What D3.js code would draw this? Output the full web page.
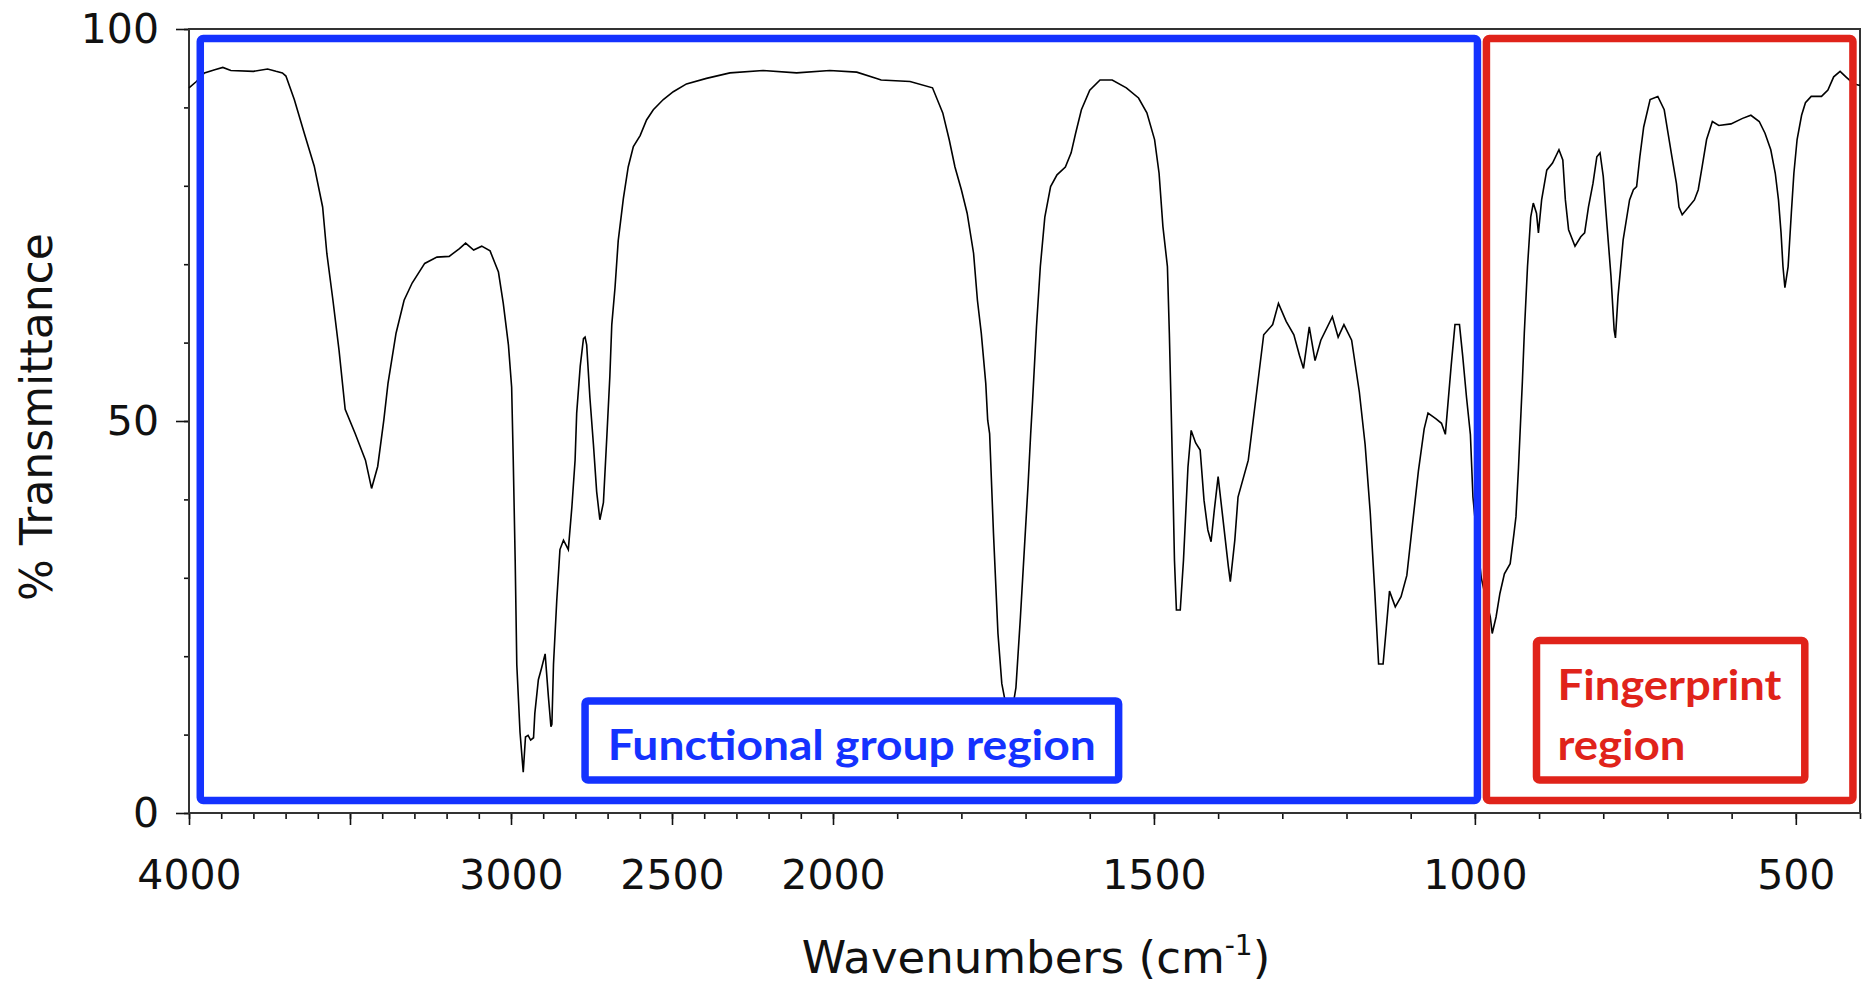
<!DOCTYPE html>
<html>
<head>
<meta charset="utf-8">
<script src="https://cdn.jsdelivr.net/npm/d3@7"></script>
<style>
  body { margin: 0; background: #fff; }
  text { font-family: "DejaVu Sans", sans-serif; fill: #111; }
</style>
</head>
<body>
<div id="chart"></div>
<script>
// wavenumber (cm-1) and % transmittance
const wavenumbers = [
  4000, 3977, 3952, 3920, 3895, 3870, 3800, 3756, 3730, 3710, 3699, 3673, 3642, 3611, 3585, 3572,
  3553, 3534, 3515, 3484, 3452, 3433, 3414, 3395, 3382, 3357, 3332, 3307, 3268, 3230, 3192, 3160,
  3141, 3116, 3091, 3065, 3039, 3024, 3008, 2998, 2993, 2987, 2982, 2972, 2962, 2955, 2947, 2939,
  2930, 2926, 2915, 2905, 2894, 2884, 2876, 2873, 2868, 2858, 2848, 2837, 2822, 2811, 2801, 2796,
  2785, 2775, 2770, 2765, 2755, 2744, 2734, 2724, 2713, 2702, 2693, 2687, 2677, 2667, 2651, 2636,
  2620, 2599, 2579, 2558, 2527, 2496, 2455, 2393, 2320, 2217, 2113, 2010, 1963, 1932, 1925, 1880,
  1845, 1829, 1819, 1810, 1800, 1791, 1781, 1775, 1769, 1762, 1759, 1756, 1750, 1743, 1737, 1730,
  1720, 1715, 1708, 1702, 1696, 1692, 1689, 1683, 1677, 1670, 1661, 1651, 1638, 1629, 1622, 1613,
  1600, 1584, 1565, 1543, 1524, 1511, 1499, 1492, 1486, 1479, 1476, 1473, 1470, 1468, 1465, 1459,
  1454, 1447, 1442, 1435, 1428, 1422, 1416, 1411, 1406, 1400, 1394, 1384, 1381, 1374, 1369, 1353,
  1341, 1329, 1315, 1306, 1294, 1282, 1273, 1267, 1258, 1249, 1240, 1222, 1213, 1204, 1192, 1180,
  1171, 1163, 1156, 1150, 1143, 1138, 1133, 1124, 1115, 1106, 1097, 1088, 1079, 1073, 1061, 1052,
  1046, 1037, 1031, 1024, 1019, 1013, 1007, 1003, 998, 990, 982, 976, 973, 967, 961, 954,
  945, 939, 936, 932, 928, 926, 923, 918, 913, 909, 904, 901, 896, 888, 879, 869,
  863, 859, 854, 844, 835, 829, 823, 816, 810, 805, 800, 794, 788, 783, 781, 777,
  769, 759, 753, 748, 743, 737, 727, 715, 705, 699, 693, 686, 682, 677, 668, 658,
  652, 646, 639, 630, 620, 601, 583, 570, 557, 548, 539, 532, 527, 523, 520, 517,
  512, 507, 503, 498, 491, 485, 476, 460, 450, 441, 431, 422, 410, 400
];
const transmittance = [
  92.5, 93.3, 94.4, 94.8, 95.1, 94.7, 94.6, 94.9, 94.6, 94.4, 94.0, 91.0, 86.7, 82.5, 77.3, 71.4,
  65.4, 59.0, 51.5, 48.4, 45.0, 41.4, 44.2, 50.1, 54.8, 61.2, 65.4, 67.6, 70.1, 70.9, 71.0, 72.0,
  72.7, 71.8, 72.3, 71.7, 69.0, 65.0, 59.7, 54.3, 45.0, 32.2, 18.9, 10.3, 5.2, 9.7, 9.9, 9.3,
  9.6, 12.7, 17.0, 18.5, 20.3, 14.9, 11.0, 11.3, 19.0, 27.0, 33.6, 34.8, 33.6, 39.0, 45.0, 51.0,
  57.0, 60.5, 60.7, 59.7, 53.0, 47.0, 41.0, 37.4, 39.6, 48.3, 55.7, 62.3, 67.0, 73.0, 78.4, 82.4,
  85.0, 86.4, 88.4, 89.7, 91.0, 92.0, 93.0, 93.7, 94.4, 94.7, 94.4, 94.7, 94.5, 93.7, 93.5, 93.3,
  92.5, 89.3, 85.9, 82.4, 79.5, 76.5, 71.4, 65.4, 61.2, 54.8, 50.1, 48.4, 35.7, 22.9, 16.5, 13.5,
  13.5, 16.0, 25.0, 33.5, 42.0, 48.4, 52.7, 62.0, 69.7, 76.0, 79.9, 81.4, 82.4, 84.2, 86.7, 89.7,
  92.2, 93.5, 93.5, 92.5, 91.2, 89.3, 85.9, 81.6, 74.8, 69.7, 61.2, 51.0, 40.0, 32.2, 25.9, 25.9,
  32.2, 44.1, 48.8, 47.2, 46.3, 39.9, 36.1, 34.6, 38.6, 42.9, 38.6, 31.4, 29.5, 34.8, 40.3, 45.0,
  53.0, 61.0, 62.3, 65.0, 62.7, 61.0, 58.3, 56.7, 62.0, 57.7, 60.3, 63.3, 60.7, 62.3, 60.3, 53.7,
  47.0, 38.3, 28.3, 19.0, 19.0, 23.6, 28.3, 26.3, 27.6, 30.3, 37.0, 43.6, 49.0, 51.0, 50.3, 49.7,
  48.3, 57.0, 62.3, 62.3, 58.3, 53.0, 48.3, 40.3, 36.0, 30.0, 27.0, 25.0, 22.9, 25.0, 28.0, 30.5,
  31.8, 35.7, 37.8, 44.1, 51.4, 55.0, 61.2, 69.7, 76.0, 77.8, 76.5, 74.0, 78.2, 82.0, 82.9, 84.6,
  83.3, 78.2, 74.4, 72.3, 73.5, 74.0, 77.3, 80.3, 83.7, 84.2, 81.2, 74.8, 68.5, 61.6, 60.6, 65.9,
  73.1, 78.2, 79.5, 79.9, 83.7, 87.5, 91.0, 91.4, 89.7, 86.7, 83.7, 80.3, 77.3, 76.3, 77.2, 78.2,
  79.5, 82.4, 85.9, 88.2, 87.7, 87.9, 88.6, 89.0, 88.2, 86.7, 84.6, 81.6, 78.2, 74.0, 69.7, 67.0,
  69.7, 76.5, 81.6, 85.9, 89.0, 90.6, 91.4, 91.4, 92.2, 93.9, 94.6, 93.9, 93.0, 92.8
];

const majorTicksX = [4000, 3500, 3000, 2500, 2000, 1500, 1000, 500];
const labelledTicksX = [4000, 3000, 2500, 2000, 1500, 1000, 500];
const minorTicksX = d3.range(4000, 399, -100);
const majorTicksY = [0, 50, 100];
const minorTicksY = d3.range(0, 101, 10);

// highlighted regions (in cm-1 / % units)
const regionNames = ["functional", "fingerprint"];
const regionFrom = [3965, 982];
const regionTo = [996, 411];
const regionColors = ["#1432ff", "#e0231a"];

const tagLines = [["Functional group region"], ["Fingerprint", "region"]];
const tagFrom = [2770, 904];
const tagTo = [1555, 486];
const tagTop = [14.3, 22.0];
const tagBottom = 4.2;

const width = 1863, height = 986;
const margin = { top: 29, right: 3, bottom: 173, left: 189 };

const svg = d3.select("#chart").append("svg")
  .attr("width", width)
  .attr("height", height);

// the spectrometer plot doubles the scale below 2000 cm-1
const x = d3.scaleLinear()
  .domain([4000, 2000, 400])
  .range([margin.left, 833, width - margin.right]);

const y = d3.scaleLinear()
  .domain([0, 100])
  .range([height - margin.bottom, margin.top]);

const data = wavenumbers.map((w, i) => ({ w: w, t: transmittance[i] }));

// axes
const xMinor = svg.append("g")
  .attr("transform", `translate(0,${y(0)})`)
  .call(d3.axisBottom(x).tickValues(minorTicksX).tickSize(6).tickFormat(""));
xMinor.select(".domain").remove();

const xMajor = svg.append("g")
  .attr("transform", `translate(0,${y(0)})`)
  .call(d3.axisBottom(x).tickValues(majorTicksX).tickSize(12).tickPadding(35)
    .tickFormat(d => labelledTicksX.includes(d) ? d : ""));
xMajor.select(".domain").remove();

const yMinor = svg.append("g")
  .attr("transform", `translate(${x(4000)},0)`)
  .call(d3.axisLeft(y).tickValues(minorTicksY).tickSize(5).tickFormat(""));
yMinor.select(".domain").remove();

const yMajor = svg.append("g")
  .attr("transform", `translate(${x(4000)},0)`)
  .call(d3.axisLeft(y).tickValues(majorTicksY).tickSize(13).tickPadding(17));
yMajor.select(".domain").remove();

svg.selectAll(".tick line").attr("stroke", "#111").attr("stroke-width", 1.6);
svg.selectAll(".tick text").style("font-size", "41px").attr("fill", "#111");

// plot frame
svg.append("rect")
  .attr("x", x(4000))
  .attr("y", y(100))
  .attr("width", x(400) - x(4000))
  .attr("height", y(0) - y(100))
  .attr("fill", "none")
  .attr("stroke", "#333")
  .attr("stroke-width", 2);

// spectrum
svg.append("path")
  .datum(data)
  .attr("fill", "none")
  .attr("stroke", "#000")
  .attr("stroke-width", 1.6)
  .attr("d", d3.line().x(d => x(d.w)).y(d => y(d.t)));

// region boxes
svg.selectAll(".region")
  .data(regionNames)
  .join("rect")
  .attr("class", "region")
  .attr("x", (d, i) => x(regionFrom[i]))
  .attr("y", y(98.8))
  .attr("width", (d, i) => x(regionTo[i]) - x(regionFrom[i]))
  .attr("height", y(1.6) - y(98.8))
  .attr("rx", 3)
  .attr("fill", "none")
  .attr("stroke", (d, i) => regionColors[i])
  .attr("stroke-width", 7.5);

// label boxes
const tags = svg.selectAll(".tag")
  .data(regionNames)
  .join("g")
  .attr("class", "tag");

tags.append("rect")
  .attr("x", (d, i) => x(tagFrom[i]))
  .attr("y", (d, i) => y(tagTop[i]))
  .attr("width", (d, i) => x(tagTo[i]) - x(tagFrom[i]))
  .attr("height", (d, i) => y(tagBottom) - y(tagTop[i]))
  .attr("rx", 3)
  .attr("fill", "#fff")
  .attr("stroke", (d, i) => regionColors[i])
  .attr("stroke-width", 7.5);

// functional group label, centred
svg.append("text")
  .attr("x", (x(tagFrom[0]) + x(tagTo[0])) / 2)
  .attr("y", 760)
  .attr("text-anchor", "middle")
  .attr("textLength", 488)
  .attr("lengthAdjust", "spacingAndGlyphs")
  .style("font-family", "Lato, 'Open Sans', sans-serif")
  .style("font-weight", 700)
  .style("font-size", "42px")
  .style("fill", regionColors[0])
  .text(tagLines[0][0]);

// fingerprint label, two lines
const fpWidths = [224, 128];
tagLines[1].forEach((line, k) => {
  svg.append("text")
    .attr("x", x(tagFrom[1]) + 21)
    .attr("y", 700 + k * 60)
    .attr("textLength", fpWidths[k])
    .attr("lengthAdjust", "spacingAndGlyphs")
    .style("font-family", "Lato, 'Open Sans', sans-serif")
    .style("font-weight", 700)
    .style("font-size", "42px")
    .style("fill", regionColors[1])
    .text(line);
});

// axis titles
svg.append("text")
  .attr("transform", `translate(52,${y(50) - 4}) rotate(-90)`)
  .attr("text-anchor", "middle")
  .style("font-size", "44px")
  .text("% Transmittance");

const xTitle = svg.append("text")
  .attr("x", 1036)
  .attr("y", 973)
  .attr("text-anchor", "middle")
  .style("font-size", "45px");
xTitle.append("tspan").text("Wavenumbers (cm");
xTitle.append("tspan").attr("dy", -18).style("font-size", "28px").text("-1");
xTitle.append("tspan").attr("dy", 18).text(")");
</script>
</body>
</html>
